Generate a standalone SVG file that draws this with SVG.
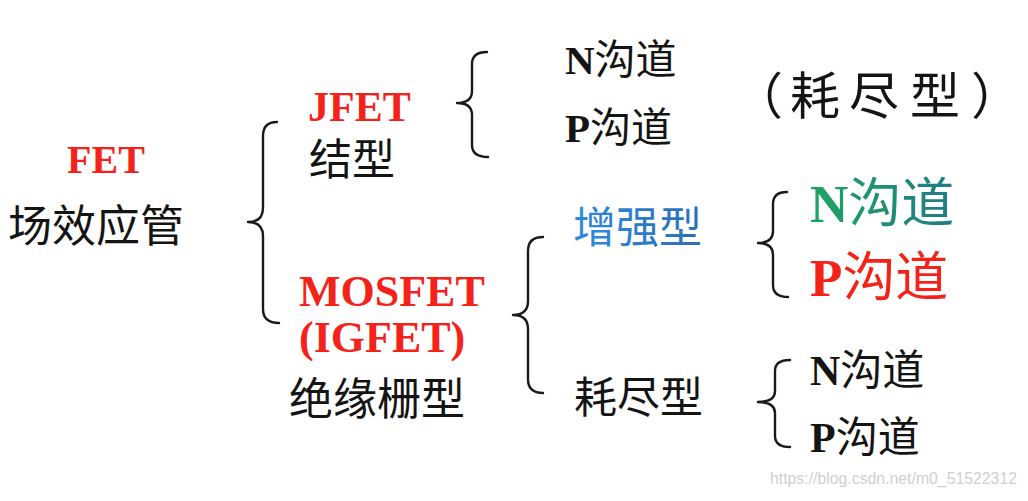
<svg xmlns="http://www.w3.org/2000/svg" width="1028" height="501" viewBox="0 0 1028 501">
<style>
.lat{font-family:"Liberation Serif","Times New Roman",serif;font-weight:bold}
.cjk{font-family:"Noto Sans CJK SC","Noto Sans",sans-serif;font-weight:normal}
.red{fill:#f5221a}
.blk{fill:#141414}
.br{fill:none;stroke:#1a1a1a;stroke-width:2.4;stroke-linecap:round;stroke-linejoin:round}
</style>
<defs>
<linearGradient id="gGreen" x1="0" y1="0" x2="1" y2="0">
<stop offset="0" stop-color="#1fa463"/>
<stop offset="1" stop-color="#1f7c86"/>
</linearGradient>
<linearGradient id="gBlue" x1="0" y1="0" x2="1" y2="0">
<stop offset="0" stop-color="#2f8ae0"/>
<stop offset="1" stop-color="#2a6eb8"/>
</linearGradient>
</defs>
<rect width="1028" height="501" fill="#ffffff"/>

<g id="connectors">
<path class="br" d="M277 122 Q263 122 263 136 L263 208 Q263 222 248 222 Q263 222 263 236 L263 309 Q263 323 279 323"/>
<path class="br" d="M487 52 Q472 52 472 64 L472 91 Q472 103 457 103 Q472 103 472 115 L472 145 Q472 157 488 157"/>
<path class="br" d="M543 237 Q528 237 528 251 L528 301 Q528 315 513 315 Q528 315 528 329 L528 379 Q528 393 543 393"/>
<path class="br" d="M787 192 Q773 192 773 204 L773 231 Q773 243 758 243 Q773 243 773 255 L773 285 Q773 297 788 297"/>
<path class="br" d="M790 360 Q775 360 775 371 L775 391 Q775 402 758 402 Q775 402 775 413 L775 436 Q775 447 790 447"/>
</g>

<g id="node-fet">
<text x="106" y="173" text-anchor="middle" class="lat red" font-size="40">FET</text>
<text x="8" y="242" class="cjk blk" font-size="44">场效应管</text>
</g>

<g id="node-jfet">
<text x="308" y="121" class="lat red" font-size="42">JFET</text>
<text x="309" y="175" class="cjk blk" font-size="43">结型</text>
</g>

<g id="node-jfet-n">
<text x="565" y="74" class="blk" font-size="41"><tspan class="lat">N</tspan><tspan class="cjk">沟道</tspan></text>
</g>
<g id="node-jfet-p">
<text x="565" y="142" class="blk" font-size="41"><tspan class="lat">P</tspan><tspan class="cjk">沟道</tspan></text>
</g>
<g id="node-jfet-note">
<text x="733 790 849 910 971" y="114" class="cjk blk" font-size="50">（耗尽型）</text>
</g>

<g id="node-mosfet">
<text x="299" y="306" class="lat red" font-size="44">MOSFET</text>
<text x="299" y="352" class="lat red" font-size="44">(IGFET)</text>
<text x="289" y="415" class="cjk blk" font-size="44">绝缘栅型</text>
</g>

<g id="node-enh">
<text x="573" y="243" class="cjk" fill="url(#gBlue)" font-size="43">增强型</text>
</g>
<g id="node-dep">
<text x="574" y="413" class="cjk blk" font-size="43">耗尽型</text>
</g>

<g id="node-enh-n">
<text x="810" y="222" fill="url(#gGreen)" font-size="53"><tspan class="lat">N</tspan><tspan class="cjk">沟道</tspan></text>
</g>
<g id="node-enh-p">
<text x="810" y="296" class="red" font-size="53"><tspan class="lat">P</tspan><tspan class="cjk">沟道</tspan></text>
</g>

<g id="node-dep-n">
<text x="810" y="385" class="blk" font-size="42"><tspan class="lat">N</tspan><tspan class="cjk">沟道</tspan></text>
</g>
<g id="node-dep-p">
<text x="810" y="452" class="blk" font-size="42"><tspan class="lat">P</tspan><tspan class="cjk">沟道</tspan></text>
</g>

<text x="770" y="484" font-family="Liberation Sans, Arial, sans-serif" font-size="16" textLength="247" lengthAdjust="spacingAndGlyphs" fill="#cfcfcf">https://blog.csdn.net/m0_51522312</text>
</svg>
